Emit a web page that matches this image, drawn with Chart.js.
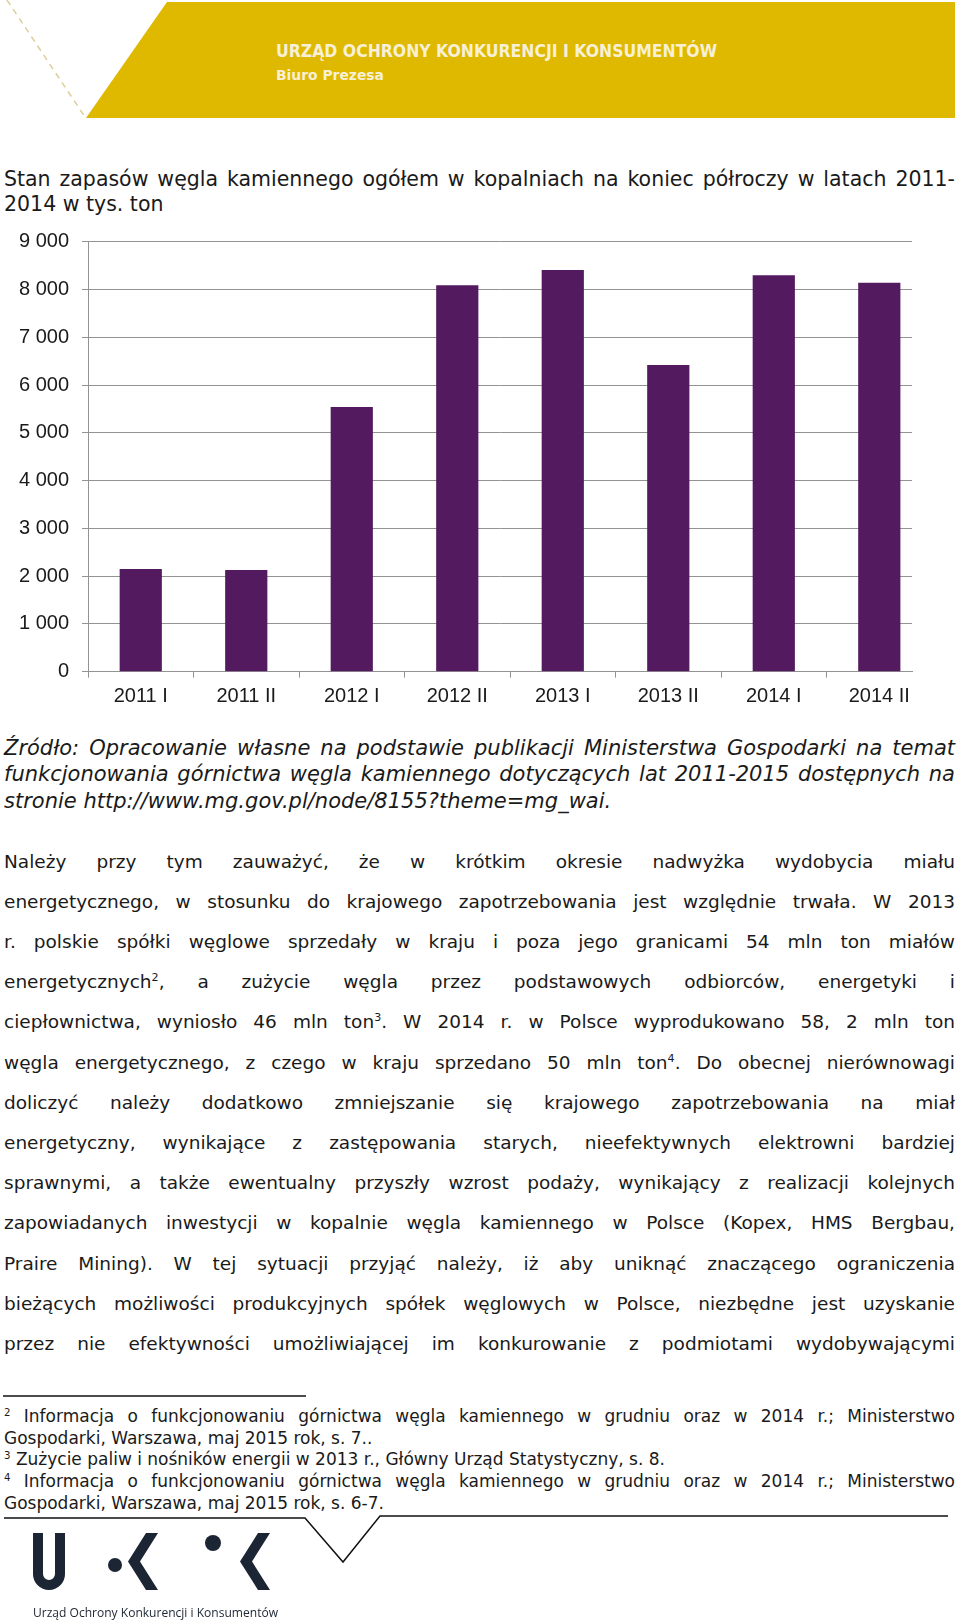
<!DOCTYPE html>
<html lang="pl">
<head>
<meta charset="utf-8">
<title>Stan zapasów węgla kamiennego 2011-2014</title>
<script src="https://cdn.jsdelivr.net/npm/chart.js@4.4.1/dist/chart.umd.min.js"></script>
<style>
  html, body { margin: 0; padding: 0; background: #fff; }
  body {
    width: 960px; height: 1624px; position: relative; overflow: hidden;
    font-family: "DejaVu Sans", sans-serif; color: #1a1a1a;
  }
  .abs { position: absolute; }
  .txt { left: 4px; width: 951px; }
  .ln { white-space: nowrap; }
  .ln > span { display: inline-block; transform-origin: 0 50%; }
  sup { font-size: 0.6em; line-height: 0; vertical-align: 0.6em; }
  .head { color: #f7f0d6; font-weight: bold; font-stretch: condensed; }
</style>
</head>
<body>

<!-- header band -->
<div class="abs" style="left:0;top:2px;width:955px;height:116px;background:#dfb800;
  clip-path:polygon(167px 0,955px 0,955px 116px,86px 116px);"></div>
<svg class="abs" style="left:0;top:0" width="960" height="130">
  <line x1="7" y1="0" x2="85" y2="117" stroke="#dccf9a" stroke-width="1.5" stroke-dasharray="6 5"/>
</svg>
<div class="abs head" style="left:276px;top:41px;font-size:17px;line-height:20px;">
  <div class="ln" data-mode="fit" data-w="441"><span>URZĄD OCHRONY KONKURENCJI I KONSUMENTÓW</span></div>
</div>
<div class="abs head" style="left:276px;top:66px;font-size:14px;line-height:18px;">
  <div class="ln" data-mode="fit" data-w="108"><span>Biuro Prezesa</span></div>
</div>

<!-- title -->
<div class="abs txt" style="top:166.7px;font-size:20.5px;line-height:25.5px;">
  <div class="ln" data-mode="j"><span>Stan zapasów węgla kamiennego ogółem w kopalniach na koniec półroczy w latach 2011-</span></div>
  <div class="ln"><span>2014 w tys. ton</span></div>
</div>

<!-- chart -->
<div class="abs" style="left:0;top:200px;width:960px;height:520px;">
  <canvas id="stockChart" width="960" height="520"></canvas>
</div>

<!-- source -->
<div class="abs txt" style="top:734.5px;font-size:21px;line-height:26.5px;font-style:italic;">
  <div class="ln" data-mode="j"><span>Źródło: Opracowanie własne na podstawie publikacji Ministerstwa Gospodarki na temat</span></div>
  <div class="ln" data-mode="j"><span>funkcjonowania górnictwa węgla kamiennego dotyczących lat 2011-2015 dostępnych na</span></div>
  <div class="ln"><span>stronie http://www.mg.gov.pl/node/8155?theme=mg_wai.</span></div>
</div>

<!-- body text -->
<div class="abs txt" style="top:841.5px;font-size:18.5px;line-height:40.2px;">
  <div class="ln" data-mode="j"><span>Należy przy tym zauważyć, że w krótkim okresie nadwyżka wydobycia miału</span></div>
  <div class="ln" data-mode="j"><span>energetycznego, w stosunku do krajowego zapotrzebowania jest względnie trwała. W 2013</span></div>
  <div class="ln" data-mode="j"><span>r. polskie spółki węglowe sprzedały w kraju i poza jego granicami 54 mln ton miałów</span></div>
  <div class="ln" data-mode="j"><span>energetycznych<sup>2</sup>, a zużycie węgla przez podstawowych odbiorców, energetyki i</span></div>
  <div class="ln" data-mode="j"><span>ciepłownictwa, wyniosło 46 mln ton<sup>3</sup>. W 2014 r. w Polsce wyprodukowano 58, 2 mln ton</span></div>
  <div class="ln" data-mode="j"><span>węgla energetycznego, z czego w kraju sprzedano 50 mln ton<sup>4</sup>. Do obecnej nierównowagi</span></div>
  <div class="ln" data-mode="j"><span>doliczyć należy dodatkowo zmniejszanie się krajowego zapotrzebowania na miał</span></div>
  <div class="ln" data-mode="j"><span>energetyczny, wynikające z zastępowania starych, nieefektywnych elektrowni bardziej</span></div>
  <div class="ln" data-mode="j"><span>sprawnymi, a także ewentualny przyszły wzrost podaży, wynikający z realizacji kolejnych</span></div>
  <div class="ln" data-mode="j"><span>zapowiadanych inwestycji w kopalnie węgla kamiennego w Polsce (Kopex, HMS Bergbau,</span></div>
  <div class="ln" data-mode="j"><span>Praire Mining). W tej sytuacji przyjąć należy, iż aby uniknąć znaczącego ograniczenia</span></div>
  <div class="ln" data-mode="j"><span>bieżących możliwości produkcyjnych spółek węglowych w Polsce, niezbędne jest uzyskanie</span></div>
  <div class="ln" data-mode="j"><span>przez nie efektywności umożliwiającej im konkurowanie z podmiotami wydobywającymi</span></div>
</div>

<!-- footnotes -->
<div class="abs txt" style="top:1406.3px;font-size:17px;line-height:21.6px;">
  <div class="ln" data-mode="j"><span><sup>2</sup> Informacja o funkcjonowaniu górnictwa węgla kamiennego w grudniu oraz w 2014 r.; Ministerstwo</span></div>
  <div class="ln"><span>Gospodarki, Warszawa, maj 2015 rok, s. 7..</span></div>
  <div class="ln"><span><sup>3</sup> Zużycie paliw i nośników energii w 2013 r., Główny Urząd Statystyczny, s. 8.</span></div>
  <div class="ln" data-mode="j"><span><sup>4</sup> Informacja o funkcjonowaniu górnictwa węgla kamiennego w grudniu oraz w 2014 r.; Ministerstwo</span></div>
  <div class="ln"><span>Gospodarki, Warszawa, maj 2015 rok, s. 6-7.</span></div>
</div>

<!-- footer rules and logo -->
<svg class="abs" style="left:0;top:0;pointer-events:none" width="960" height="1624">
  <line x1="3" y1="1396" x2="306" y2="1396" stroke="#111" stroke-width="1.5"/>
  <polyline points="4,1518 305,1518 343,1562 380,1516 948,1516" fill="none" stroke="#111" stroke-width="1.5"/>
  <g fill="#1c2533">
    <path d="M38 1533 V1574 A11 11 0 0 0 60 1574 V1533" fill="none" stroke="#1c2533" stroke-width="10"/>
    <circle cx="115" cy="1565" r="7"/>
    <polygon points="146,1533 158,1533 140,1561.5 158,1590 146,1590 128,1561.5"/>
    <circle cx="213" cy="1543" r="8"/>
    <polygon points="258,1533 270,1533 252,1561.5 270,1590 258,1590 240,1561.5"/>
  </g>
</svg>
<div class="abs" style="left:33px;top:1604px;font-size:13px;line-height:16px;color:#1c2533;font-family:'Open Sans',sans-serif;">
  <div class="ln" data-mode="fit" data-w="245"><span>Urząd Ochrony Konkurencji i Konsumentów</span></div>
</div>

<script>
// ================== Data ==================
const categories = ["2011 I", "2011 II", "2012 I", "2012 II", "2013 I", "2013 II", "2014 I", "2014 II"];
const stockValues = [2150, 2130, 5540, 8090, 8410, 6420, 8300, 8140];
const yTickLabels = ["0", "1 000", "2 000", "3 000", "4 000", "5 000", "6 000", "7 000", "8 000", "9 000"];

const gridColor = "#939393";
const axisFont = { family: "'Liberation Sans', Arial, sans-serif", size: 20 };

// ================== Chart ==================
// x runs on a linear index axis: the original plot area cuts the last
// category short, so the grid ends before the last slot does
const ctx = document.getElementById("stockChart").getContext("2d");
const stockChart = new Chart(ctx, {
  type: "bar",
  data: {
    datasets: [
      {
        label: "Stan zapasów (tys. ton)",
        data: stockValues.map((v, i) => ({ x: i, y: v })),
        backgroundColor: "#541a5f",
        borderWidth: 0,
        categoryPercentage: 1,
        barPercentage: 0.4,
      },
    ],
  },
  options: {
    responsive: false,
    animation: false,
    layout: { padding: { top: 41.7, right: 48, bottom: 0, left: 0 } },
    plugins: { legend: { display: false }, tooltip: { enabled: false } },
    scales: {
      x: {
        type: "linear",
        offset: false,
        min: -0.5,
        max: categories.length - 0.69,
        afterBuildTicks: (s) => {
          s.ticks = categories.map((c, i) => ({ value: i }));
        },
        grid: { drawOnChartArea: false, drawTicks: true, tickLength: 6, color: gridColor, offset: true },
        border: { display: true, color: gridColor },
        ticks: {
          color: "#1a1a1a",
          font: axisFont,
          padding: 7,
          maxRotation: 0,
          autoSkip: false,
          callback: (v, i) => categories[i],
        },
        afterFit: (s) => { s.height = 48.3; },
      },
      y: {
        min: 0,
        max: 9000,
        grid: { color: gridColor, tickLength: 6, drawTicks: true },
        border: { display: true, color: gridColor },
        ticks: {
          stepSize: 1000,
          color: "#1a1a1a",
          font: axisFont,
          padding: 13,
          callback: (v, i) => yTickLabels[i],
        },
        afterFit: (s) => { s.width = 88; },
      },
    },
  },
});

// ================== Justify text lines ==================
function fitLines() {
  document.querySelectorAll(".ln").forEach((ln) => {
    const span = ln.firstElementChild;
    const target = parseFloat(ln.dataset.w || ln.parentElement.clientWidth);
    const mode = ln.dataset.mode || "";
    const natural = span.getBoundingClientRect().width;
    if (mode === "fit") {
      span.style.transform = `scaleX(${target / natural})`;
    } else if (natural > target) {
      span.style.transform = `scaleX(${target / natural})`;
    } else if (mode === "j") {
      const spaces = (span.textContent.match(/ /g) || []).length;
      if (spaces) span.style.wordSpacing = (target - natural) / spaces + "px";
    }
  });
}
document.fonts.ready.then(fitLines);
</script>
</body>
</html>
